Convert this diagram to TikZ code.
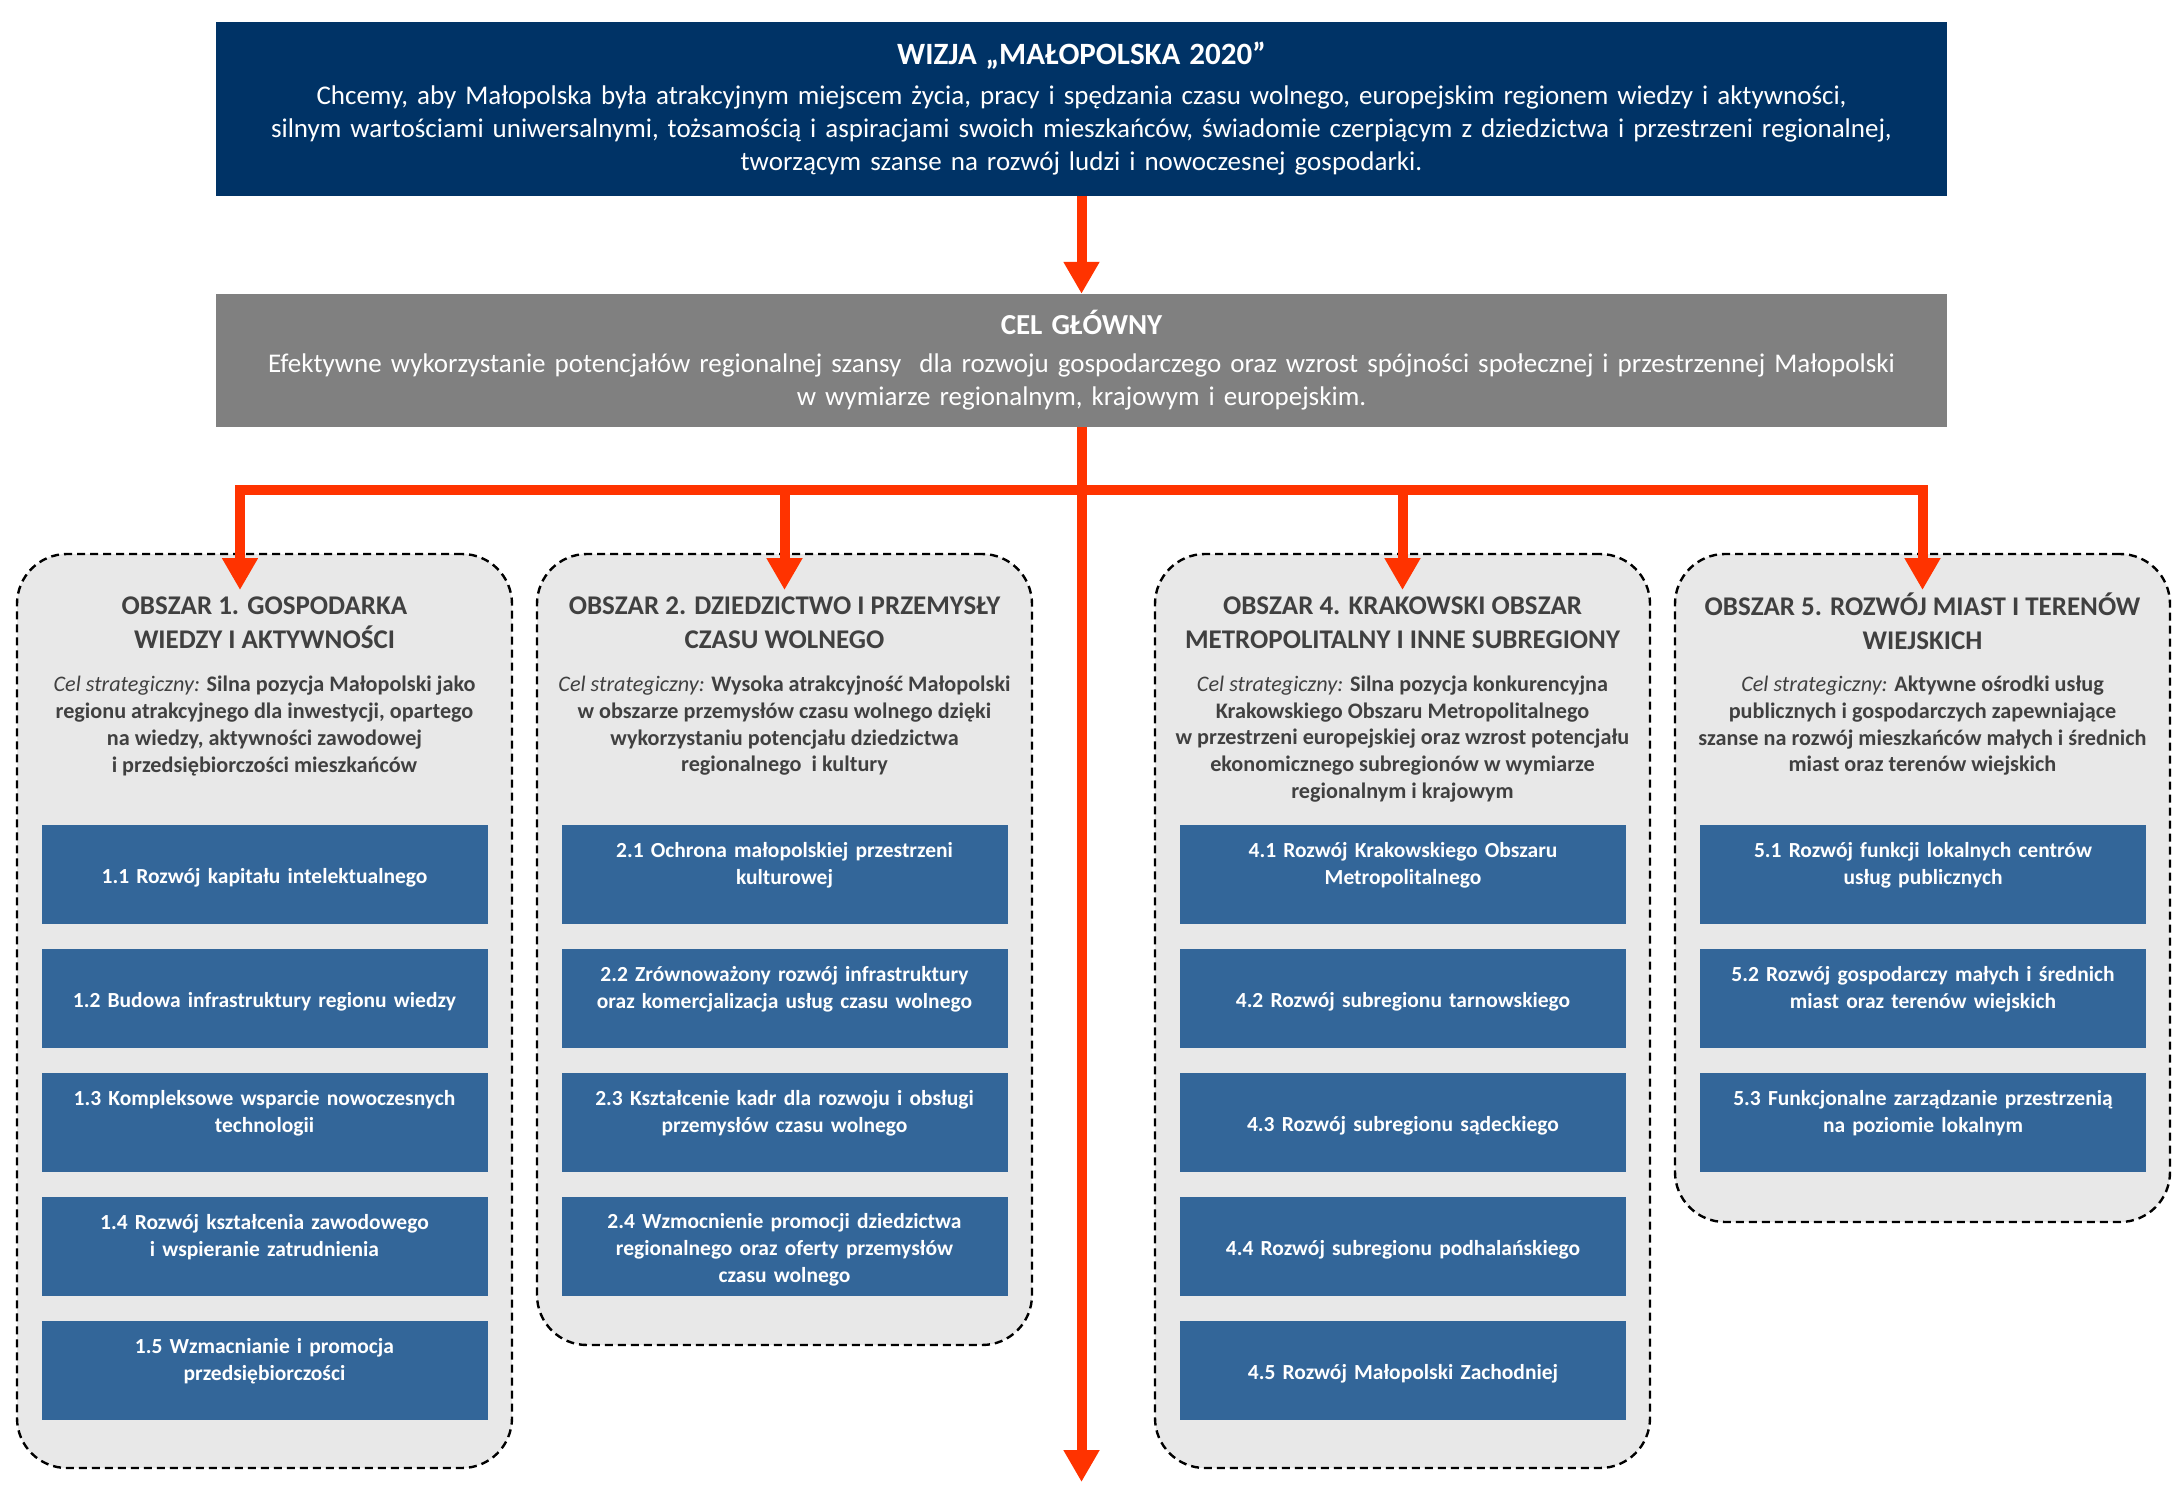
\documentclass[tikz,border=0pt]{standalone}
\usepackage{fontspec}
\setmainfont{Carlito}
\usetikzlibrary{arrows.meta}
\definecolor{navy}{RGB}{0,51,102}
\definecolor{celgray}{RGB}{128,128,128}
\definecolor{arrowred}{RGB}{255,51,0}
\definecolor{bluebox}{RGB}{51,102,153}
\definecolor{areafill}{RGB}{232,232,232}
\definecolor{areatext}{RGB}{64,64,64}
\newcommand{\actTop}{\rule{0pt}{23pt}}
\newcommand{\actBot}{\rule[-6pt]{0pt}{6pt}}
\newcommand{\actBotx}{\rule[-31pt]{0pt}{31pt}}
\begin{document}
\begin{tikzpicture}[x=1pt,y=-1pt,
  topbox/.style={rectangle,inner sep=0pt,minimum width=1731pt,text width=1720pt,align=center,text=white,font=\fontsize{27}{33}\selectfont},
  visionbox/.style={topbox,fill=navy,minimum height=174pt},
  goalbox/.style={topbox,fill=celgray,minimum height=133pt},
  areabox/.style={rectangle,draw=black,fill=areafill,line width=2.4pt,dash pattern=on 8pt off 5pt,rounded corners=50pt,minimum width=495pt,inner sep=0pt},
  areatitle/.style={text=areatext,align=center,inner sep=0pt,font=\fontsize{27}{34}\selectfont\bfseries},
  areagoal/.style={text=areatext,align=center,inner sep=0pt,font=\fontsize{22.2}{26.7}\selectfont\bfseries},
  actbox/.style={rectangle,fill=bluebox,text=white,minimum width=446pt,minimum height=99pt,inner sep=0pt,text width=440pt,align=center,font=\fontsize{21.5}{27}\selectfont\bfseries},
  redline/.style={draw=arrowred,line width=10pt,line join=miter},
  redarrow/.style={redline,-{Triangle[width=34pt,length=32pt]}},
  redarrows/.style={redline,{Triangle[width=34pt,length=32pt]}-{Triangle[width=34pt,length=32pt]}}
]
\useasboundingbox (0,0) rectangle (2182,1487);

% top boxes
\node[visionbox] (vision) at (1081.5,109) {{\fontsize{31}{33}\selectfont\bfseries WIZJA „MAŁOPOLSKA 2020”}\\[7pt]
Chcemy, aby Małopolska była atrakcyjnym miejscem życia, pracy i spędzania czasu wolnego, europejskim regionem wiedzy i aktywności,\\
silnym wartościami uniwersalnymi, tożsamością i aspiracjami swoich mieszkańców, świadomie czerpiącym z dziedzictwa i przestrzeni regionalnej,\\
tworzącym szanse na rozwój ludzi i nowoczesnej gospodarki.};

\node[goalbox] (goal) at (1081.5,360.5) {{\fontsize{29}{33}\selectfont\bfseries CEL GŁÓWNY}\\[5pt]
Efektywne wykorzystanie potencjałów regionalnej szansy\ \ dla rozwoju gospodarczego oraz wzrost spójności społecznej i przestrzennej Małopolski\\
w wymiarze regionalnym, krajowym i europejskim.};

% area boxes
\node[areabox,minimum height=914pt] (ob1) at (264.5,1011) {};
\node[areabox,minimum height=791pt] (ob2) at (784.5,949.5) {};
\node[areabox,minimum height=914pt] (ob4) at (1402.5,1011) {};
\node[areabox,minimum height=668pt] (ob5) at (1922.5,888) {};

% area titles
\node[areatitle] (ot1) at (264.5,623) {OBSZAR 1. GOSPODARKA\\WIEDZY I AKTYWNOŚCI};
\node[areatitle] (ot2) at (784.5,623) {OBSZAR 2. DZIEDZICTWO I PRZEMYSŁY\\CZASU WOLNEGO};
\node[areatitle] (ot4) at (1402.5,623) {OBSZAR 4. KRAKOWSKI OBSZAR\\METROPOLITALNY I INNE SUBREGIONY};
\node[areatitle] (ot5) at (1922.5,621.5) {OBSZAR 5. ROZWÓJ MIAST I TERENÓW\\WIEJSKICH};

% strategic goals
\node[areagoal] (og1) at (264.5,726) {{\mdseries\itshape Cel strategiczny:} Silna pozycja Małopolski jako\\regionu atrakcyjnego dla inwestycji, opartego\\na wiedzy, aktywności zawodowej\\i przedsiębiorczości mieszkańców};
\node[areagoal] (og2) at (784.5,726) {{\mdseries\itshape Cel strategiczny:} Wysoka atrakcyjność Małopolski\\w obszarze przemysłów czasu wolnego dzięki\\wykorzystaniu potencjału dziedzictwa\\regionalnego\ \ i kultury};
\node[areagoal] (og4) at (1402.5,739) {{\mdseries\itshape Cel strategiczny:} Silna pozycja konkurencyjna\\Krakowskiego Obszaru Metropolitalnego\\w przestrzeni europejskiej oraz wzrost potencjału\\ekonomicznego subregionów w wymiarze\\regionalnym i krajowym};
\node[areagoal] (og5) at (1922.5,726) {{\mdseries\itshape Cel strategiczny:} Aktywne ośrodki usług\\publicznych i gospodarczych zapewniające\\szanse na rozwój mieszkańców małych i średnich\\miast oraz terenów wiejskich};

% action boxes
\node[actbox] (b11) at (264.5,874.5) {\actTop\actBot 1.1 Rozwój kapitału intelektualnego};
\node[actbox] (b12) at (264.5,998.5) {\actTop\actBot 1.2 Budowa infrastruktury regionu wiedzy};
\node[actbox] (b13) at (264.5,1122.5) {\actTop 1.3 Kompleksowe wsparcie nowoczesnych\\technologii\actBotx};
\node[actbox] (b14) at (264.5,1246.5) {\actTop 1.4 Rozwój kształcenia zawodowego\\i wspieranie zatrudnienia\actBotx};
\node[actbox] (b15) at (264.5,1370.5) {\actTop 1.5 Wzmacnianie i promocja\\przedsiębiorczości\actBotx};

\node[actbox] (b21) at (784.5,874.5) {\actTop 2.1 Ochrona małopolskiej przestrzeni\\kulturowej\actBotx};
\node[actbox] (b22) at (784.5,998.5) {\actTop 2.2 Zrównoważony rozwój infrastruktury\\oraz komercjalizacja usług czasu wolnego\actBotx};
\node[actbox] (b23) at (784.5,1122.5) {\actTop 2.3 Kształcenie kadr dla rozwoju i obsługi\\przemysłów czasu wolnego\actBotx};
\node[actbox] (b24) at (784.5,1246.5) {\actTop 2.4 Wzmocnienie promocji dziedzictwa\\regionalnego oraz oferty przemysłów\\czasu wolnego\actBot};

\node[actbox] (b41) at (1403,874.5) {\actTop 4.1 Rozwój Krakowskiego Obszaru\\Metropolitalnego\actBotx};
\node[actbox] (b42) at (1403,998.5) {\actTop\actBot 4.2 Rozwój subregionu tarnowskiego};
\node[actbox] (b43) at (1403,1122.5) {\actTop\actBot 4.3 Rozwój subregionu sądeckiego};
\node[actbox] (b44) at (1403,1246.5) {\actTop\actBot 4.4 Rozwój subregionu podhalańskiego};
\node[actbox] (b45) at (1403,1370.5) {\actTop\actBot 4.5 Rozwój Małopolski Zachodniej};

\node[actbox] (b51) at (1923,874.5) {\actTop 5.1 Rozwój funkcji lokalnych centrów\\usług publicznych\actBotx};
\node[actbox] (b52) at (1923,998.5) {\actTop 5.2 Rozwój gospodarczy małych i średnich\\miast oraz terenów wiejskich\actBotx};
\node[actbox] (b53) at (1923,1122.5) {\actTop 5.3 Funkcjonalne zarządzanie przestrzenią\\na poziomie lokalnym\actBotx};

% connectors
\coordinate (j1) at (240,490);
\coordinate (j2) at (784.5,490);
\coordinate (j4) at (1402.5,490);
\coordinate (j5) at (1922.5,490);
\coordinate (t1) at (240,590);
\coordinate (t2) at (784.5,590);
\coordinate (t4) at (1402.5,590);
\coordinate (t5) at (1922.5,590);
\coordinate (bottom) at (1081.5,1482);

\draw[redarrow] (vision.south) -- (goal.north);
\draw[redarrow] (goal.south) -- (bottom);
\draw[redarrows] (t1) -- (j1) -- (j5) -- (t5);
\draw[redarrow] (j2) -- (t2);
\draw[redarrow] (j4) -- (t4);
\end{tikzpicture}
\end{document}
